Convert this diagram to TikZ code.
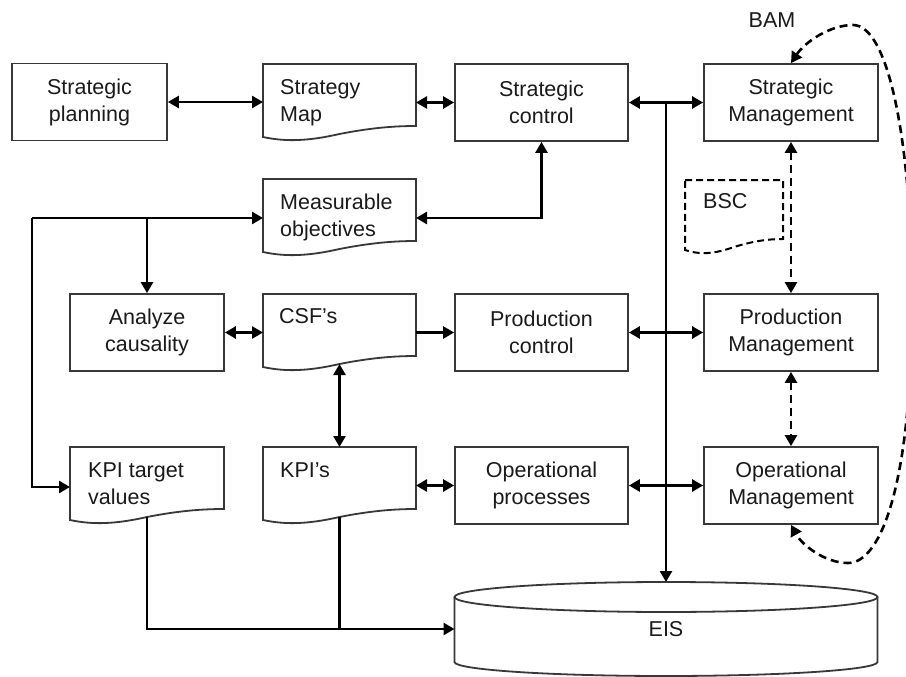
\documentclass[tikz,border=0pt]{standalone}
\usepackage{fontspec}
\setmainfont{Liberation Sans}
\usetikzlibrary{arrows.meta,calc}
\definecolor{edge}{HTML}{383838}
\definecolor{ink}{HTML}{1A1A1A}

% outline of a document symbol (flat top, wavy bottom) around a named node
\newcommand\drawdoc[2][]{%
  \draw[outline,#1] (#2.north west) -- (#2.north east) -- (#2.south east)
    .. controls ($(#2.south east)!0.15!(#2.south west)$) and ($(#2.south east)!0.3!(#2.south west)+(0,-2)$)
    .. ($(#2.south east)!0.5!(#2.south west)+(0,-8)$)
    .. controls ($(#2.south east)!0.7!(#2.south west)+(0,-15)$) and ($(#2.south east)!0.85!(#2.south west)+(0,-16)$)
    .. ($(#2.south west)+(0,-11)$) -- cycle;}

\begin{document}
\begin{tikzpicture}[x=1pt,y=1pt,
  every node/.style={font=\fontsize{21.5}{27}\selectfont, text=ink},
  outline/.style={draw=edge, line width=1.8pt},
  box/.style={outline, minimum height=77pt, align=center, inner sep=0pt},
  narrowbox/.style={box, minimum width=155pt},
  widebox/.style={box, minimum width=174pt},
  doc/.style={minimum width=153pt, minimum height=62pt, inner sep=0pt, outer sep=0pt},
  doctext/.style={anchor=north west, align=left, inner sep=0pt},
  conn/.style={line width=2.6pt, black},
  arr/.style={conn, -{Triangle[length=11pt,width=12pt]}},
  darr/.style={conn, {Triangle[length=11pt,width=12pt]}-{Triangle[length=11pt,width=12pt]}},
  dashline/.style={line width=2.6pt, black, dash pattern=on 8pt off 5pt},
  ddarr/.style={dashline, {Triangle[length=11pt,width=12pt]}-{Triangle[length=11pt,width=12pt]}}
]
\fill[white] (0,0) rectangle (906,-677);
\useasboundingbox (0,0) rectangle (906,-677);

% ---- process boxes ----
\node[narrowbox] (splan) at (89.5,-102) {Strategic\\planning};
\node[widebox, minimum width=173pt] (sctl) at (541.5,-102.5) {Strategic\\control};
\node[widebox] (smgt) at (791,-102.5) {Strategic\\Management};
\node[narrowbox, minimum width=154pt] (acaus) at (147,-332.5) {Analyze\\causality};
\node[widebox, minimum width=173pt] (pctl) at (541.5,-332.5) {Production\\control};
\node[widebox] (pmgt) at (791,-332.5) {Production\\Management};
\node[widebox, minimum width=173pt] (oproc) at (541.5,-485.5) {Operational\\processes};
\node[widebox] (omgt) at (791,-485.5) {Operational\\Management};

% ---- documents ----
\node[doc] (smap) at (339.5,-95) {};
\node[doc] (mobj) at (339.5,-210) {};
\node[doc] (csf) at (339.5,-325) {};
\node[doc, minimum width=154pt] (kpit) at (147,-478) {};
\node[doc] (kpi) at (339.5,-478) {};
\node[doc, minimum width=98pt, minimum height=59pt] (bsc) at (734,-209.5) {};
\drawdoc{smap}
\drawdoc{mobj}
\drawdoc{csf}
\drawdoc{kpit}
\drawdoc{kpi}
\drawdoc[dashline, line width=2pt, dash pattern=on 7pt off 4pt]{bsc}
\node[doctext] (smapt) at ($(smap.north west)+(17,-15)$) {Strategy\\Map};
\node[doctext] (mobjt) at ($(mobj.north west)+(17,-15)$) {Measurable\\objectives};
\node[doctext] (csft) at ($(csf.north west)+(16,-14)$) {CSF’s};
\node[doctext] (kpitt) at ($(kpit.north west)+(18,-16)$) {KPI target\\values};
\node[doctext] (kpit2) at ($(kpi.north west)+(17,-16)$) {KPI’s};
\node[doctext] (bsct) at ($(bsc.north west)+(18,-13)$) {BSC};

% ---- database ----
\node[minimum width=423pt, minimum height=94pt, inner sep=0pt, outer sep=0pt] (eis) at (666,-629) {EIS};
\draw[outline] ($(eis.north)+(0,-15)$) ellipse[x radius=211.5, y radius=15];
\draw[outline] ($(eis.north west)+(0,-15)$) -- ($(eis.south west)+(0,14)$)
  arc[start angle=180, end angle=360, x radius=211.5, y radius=14] -- ($(eis.north east)+(0,-15)$);

\node (bam) at (772,-20) {BAM};

% ---- connectors: top row ----
\draw[darr] (splan.east) -- (splan.east -| smap.west);
\draw[darr] (sctl.west -| smap.east) -- (sctl.west);
\draw[darr] (sctl.east) -- (smgt.west);
\coordinate (bus) at (sctl.east -| eis.north);
\draw[arr] (bus) -- (eis.north);

% ---- measurable objectives loop ----
\coordinate (mobjR) at ($(mobj.north east)+(0,-39)$);
\coordinate (mobjL) at ($(mobj.north west)+(0,-39)$);
\draw[darr] (mobjR) -| (sctl.south);
\coordinate (loopL) at (32,-218);
\draw[arr] (loopL) -- (mobjL);
\draw[arr] (loopL) |- ($(kpit.north west)+(0,-40)$);
\draw[arr] (loopL -| acaus.north) -- (acaus.north);

% ---- middle row ----
\draw[darr] (acaus.east) -- (acaus.east -| csf.west);
\draw[arr] (pctl.west -| csf.east) -- (pctl.west);
\draw[darr] (pctl.east) -- (pmgt.west);
\draw[darr] ($(csf.south)+(0,-8)$) -- (kpi.north);

% ---- bottom row ----
\draw[darr] (oproc.west -| kpi.east) -- (oproc.west);
\draw[darr] (oproc.east) -- (omgt.west);
\draw[arr] ($(kpit.south)+(0,-8)$) |- (eis.west);
\draw[conn] ($(kpi.south)+(0,-8)$) -- (kpi.south |- eis.west);

% ---- management levels ----
\draw[ddarr] (smgt.south) -- (pmgt.north);
\draw[ddarr] (pmgt.south) -- (omgt.north);
\draw[ddarr] (smgt.north) .. controls (805,-42) and (830,-25) .. (853,-25)
  .. controls (890,-25) and (912,-150) .. (912,-300)
  .. controls (912,-480) and (882,-563) .. (848,-563)
  .. controls (825,-563) and (802,-545) .. (omgt.south);
\end{tikzpicture}
\end{document}
